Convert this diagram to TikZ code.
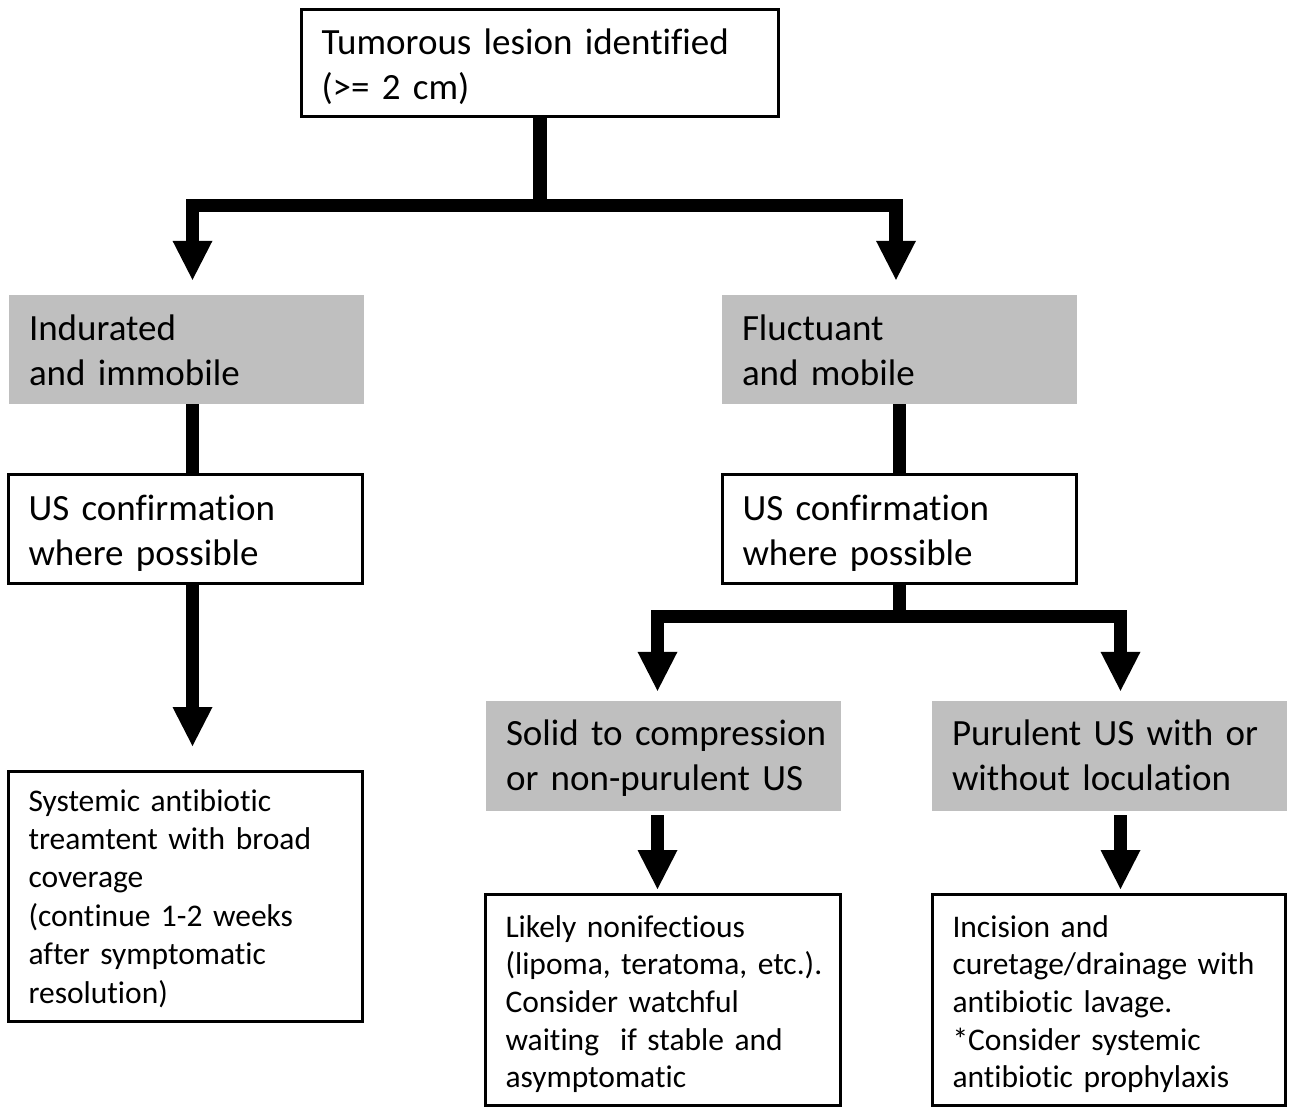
\documentclass[tikz,border=0pt]{standalone}
\usepackage{fontspec}
\setmainfont[Ligatures={NoCommon}]{Carlito}
\usetikzlibrary{arrows.meta}
\definecolor{greyfill}{RGB}{191,191,191}
\newcommand\mytopstrut[1]{\rule{0pt}{#1}}
\newcommand\mybotstrut[1]{\rule[-#1]{0pt}{#1}}
\begin{document}
\begin{tikzpicture}[x=1pt,y=-1pt,
  bigtext/.style={font=\fontsize{37}{45}\selectfont},
  smalltext/.style={font=\fontsize{31.5}{38.4}\selectfont},
  tinytext/.style={font=\fontsize{31.5}{37.7}\selectfont},
  whitebox/.style={draw=black, line width=3pt, fill=white, align=left, inner xsep=20pt, inner ysep=0pt},
  greybox/.style={fill=greyfill, align=left, inner xsep=20pt, inner ysep=0pt},
  conn/.style={line width=13.5pt},
  arr/.style={conn, -{Triangle[width=40pt,length=39pt,line width=0pt]}},
]
\fill[white] (0,0) rectangle (1294,1109);
\useasboundingbox (0,0) rectangle (1294,1109);

% boxes
\node[whitebox, bigtext, minimum width=477pt, text width=437pt, minimum height=107pt] (top) at (540,63)
  {\mytopstrut{39.4pt}\mbox{Tumorous lesion identified}\\\mbox{(>= 2 cm)}\mybotstrut{11pt}};

\node[greybox, bigtext, minimum width=355pt, text width=315pt, minimum height=109pt] (gl) at (186.5,349.5)
  {\mytopstrut{38.4pt}\mbox{Indurated}\\\mbox{and immobile}\mybotstrut{11pt}};
\node[greybox, bigtext, minimum width=355pt, text width=315pt, minimum height=109pt] (gr) at (899.5,349.5)
  {\mytopstrut{38.4pt}\mbox{Fluctuant}\\\mbox{and mobile}\mybotstrut{11pt}};

\node[whitebox, bigtext, minimum width=354pt, text width=314pt, minimum height=109pt] (usl) at (185.5,529)
  {\mytopstrut{38pt}\mbox{US confirmation}\\\mbox{where possible}\mybotstrut{11pt}};
\node[whitebox, bigtext, minimum width=354pt, text width=314pt, minimum height=109pt] (usr) at (899.5,529)
  {\mytopstrut{38pt}\mbox{US confirmation}\\\mbox{where possible}\mybotstrut{11pt}};

\node[whitebox, smalltext, minimum width=354pt, text width=314pt, minimum height=250pt] (botl) at (185.5,896.5)
  {\mytopstrut{31pt}\mbox{Systemic antibiotic}\\\mbox{treamtent with broad}\\\mbox{coverage}\\\mbox{(continue 1-2 weeks}\\\mbox{after symptomatic}\\\mbox{resolution)}\mybotstrut{10pt}};

\node[greybox, bigtext, minimum width=355pt, text width=315pt, minimum height=110pt] (gs) at (663.5,756)
  {\mytopstrut{35.4pt}\mbox{Solid to compression}\\\mbox{or non-purulent US}\mybotstrut{11pt}};
\node[greybox, bigtext, minimum width=355pt, text width=315pt, minimum height=110pt] (gp) at (1109.5,756)
  {\mytopstrut{35.4pt}\mbox{Purulent US with or}\\\mbox{without loculation}\mybotstrut{11pt}};

\node[whitebox, tinytext, minimum width=355pt, text width=315pt, minimum height=211pt] (bs) at (663,1000)
  {\mytopstrut{34.8pt}\mbox{Likely nonifectious}\\\mbox{(lipoma, teratoma, etc.).}\\\mbox{Consider watchful}\\\mbox{waiting\ \ if stable and}\\\mbox{asymptomatic}\mybotstrut{10pt}};
\node[whitebox, tinytext, minimum width=353pt, text width=313pt, minimum height=211pt] (bp) at (1109,1000)
  {\mytopstrut{34.8pt}\mbox{Incision and}\\\mbox{curetage/drainage with}\\\mbox{antibiotic lavage.}\\\mbox{*Consider systemic}\\\mbox{antibiotic prophylaxis}\mybotstrut{10pt}};

% connectors
\coordinate (j1) at (540,205.5);
\draw[conn] (top.south) -- (j1);
\draw[arr, shorten >=15pt] (j1) -| ([xshift=6pt]gl.north);
\draw[arr, shorten >=15pt] (j1) -| ([xshift=-3.5pt]gr.north);

\draw[conn] ([xshift=6pt]gl.south) -- ([xshift=7pt]usl.north);
\draw[conn] (gr.south) -- (usr.north);

\draw[arr, shorten >=24pt] ([xshift=7pt]usl.south) -- ([xshift=7pt]botl.north);

\coordinate (j2) at (899.5,616.5);
\draw[conn] (usr.south) -- (j2);
\draw[arr, shorten >=10pt] (j2) -| ([xshift=-6pt]gs.north);
\draw[arr, shorten >=10pt] (j2) -| ([xshift=11pt]gp.north);

\draw[arr, shorten <=4pt, shorten >=4pt] ([xshift=-6pt]gs.south) -- ([xshift=-5.5pt]bs.north);
\draw[arr, shorten <=4pt, shorten >=4pt] ([xshift=11pt]gp.south) -- ([xshift=11.5pt]bp.north);
\end{tikzpicture}
\end{document}
